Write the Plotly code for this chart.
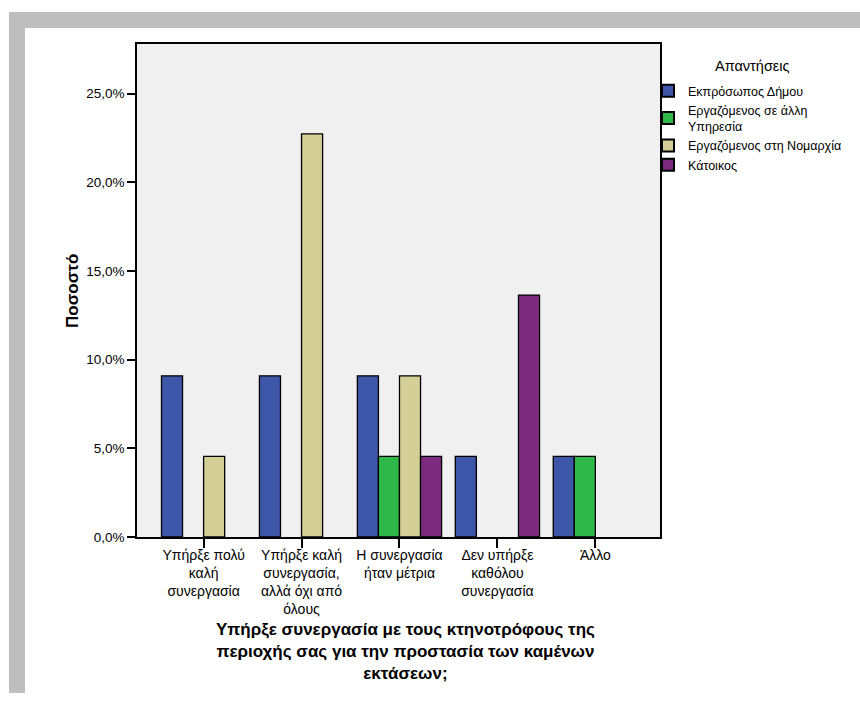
import plotly.graph_objects as go

categories = [
    "Υπήρξε πολύ<br>καλή<br>συνεργασία",
    "Υπήρξε καλή<br>συνεργασία,<br>αλλά όχι από<br>όλους",
    "Η συνεργασία<br>ήταν μέτρια",
    "Δεν υπήρξε<br>καθόλου<br>συνεργασία",
    "Άλλο",
]
series_names = [
    "Εκπρόσωπος Δήμου",
    "Εργαζόμενος σε άλλη<br>Υπηρεσία",
    "Εργαζόμενος στη Νομαρχία",
    "Κάτοικος",
]
ekprosopos = [9.09, 9.09, 9.09, 4.55, 4.55]
allh_yphresia = [0, 0, 4.55, 0, 4.55]
nomarxia = [4.55, 22.73, 9.09, 0, 0]
katoikos = [0, 0, 4.55, 13.64, 0]
colors = ["#3E56A8", "#2EB84A", "#D3CF97", "#7B2A7E"]

W, H = 860, 702
L, R, T, B = 137, 660, 44, 537
pw, ph = R - L, B - T

def px(x):
    return (x - L) / pw

def py(y):
    return (B - y) / ph

fig = go.Figure()
xs = list(range(len(categories)))
for name, vals, col in zip(series_names, [ekprosopos, allh_yphresia, nomarxia, katoikos], colors):
    fig.add_trace(go.Bar(
        x=xs, y=vals, name=name,
        marker=dict(color=col,
                    line=dict(color="#000000", width=[1.3 if v > 0 else 0 for v in vals])),
        hoverinfo="skip",
    ))

font_family = "Liberation Sans, Arial, sans-serif"
fig.update_layout(
    width=W, height=H,
    margin=dict(l=L, r=W - R, t=T, b=H - B),
    paper_bgcolor="white",
    plot_bgcolor="#F0F0F0",
    barmode="group",
    bargap=0.14,
    bargroupgap=0,
    separators=",.",
    font=dict(family=font_family, size=13, color="#000000"),
    showlegend=True,
    legend=dict(
        x=px(648), y=py(76), xanchor="left", yanchor="top",
        font=dict(size=12.5, family=font_family),
        tracegroupgap=0, itemsizing="constant",
        bgcolor="rgba(0,0,0,0)",
    ),
    xaxis=dict(
        tickmode="array", tickvals=xs, ticktext=categories,
        range=[-0.68, 4.66],
        showline=True, linecolor="#000000", linewidth=1.5, mirror=True,
        ticks="outside", ticklen=9, tickcolor="#000000", tickwidth=1.5,
        showgrid=False, zeroline=False,
        tickfont=dict(size=14),
        ticklabelstandoff=-5,
    ),
    yaxis=dict(
        range=[0, 27.8], dtick=5, tick0=0,
        tickformat=".1f", ticksuffix="%",
        showline=True, linecolor="#000000", linewidth=1.5, mirror=True,
        ticks="outside", ticklen=8, tickcolor="#000000", tickwidth=1.5,
        showgrid=False, zeroline=False,
        tickfont=dict(size=13.5),
    ),
    shapes=[
        dict(type="rect", xref="paper", yref="paper",
             x0=px(9), x1=px(25), y0=py(693), y1=py(12),
             fillcolor="#BEBEBE", line=dict(width=0), layer="below"),
        dict(type="rect", xref="paper", yref="paper",
             x0=px(9), x1=px(860), y0=py(28), y1=py(12),
             fillcolor="#BEBEBE", line=dict(width=0), layer="below"),
    ],
    annotations=[
        dict(text="Απαντήσεις", xref="paper", yref="paper",
             x=px(752), y=py(66), xanchor="center", yanchor="middle",
             showarrow=False, font=dict(size=14.5, family=font_family)),
        dict(text="<b>Ποσοστό</b>", xref="paper", yref="paper",
             x=px(72), y=py(291), xanchor="center", yanchor="middle",
             textangle=-90, showarrow=False, font=dict(size=17, family=font_family)),
        dict(text="<b>Υπήρξε συνεργασία με τους κτηνοτρόφους της<br>περιοχής σας για την προστασία των καμένων<br>εκτάσεων;</b>",
             xref="paper", yref="paper",
             x=px(405), y=py(651), xanchor="center", yanchor="middle",
             showarrow=False, font=dict(size=17, family=font_family)),
    ],
)

fig.write_html("out.html",
               config={"displayModeBar": False},
               post_script="document.body.style.margin='0';document.body.style.overflow='hidden';")
